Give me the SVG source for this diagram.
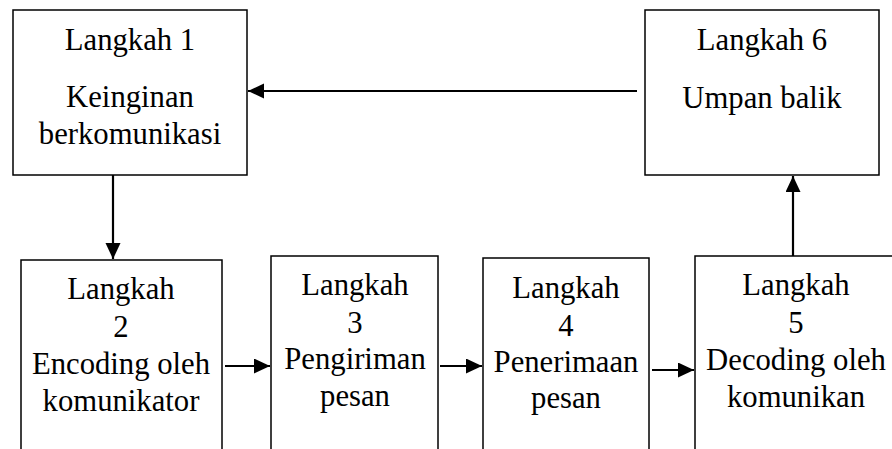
<svg xmlns="http://www.w3.org/2000/svg" width="892" height="449" viewBox="0 0 892 449">
<defs>
<style>
.box{fill:#fff;stroke:#000;stroke-width:1.5}
.c{stroke:#000;stroke-width:2.2;fill:none;marker-end:url(#ah)}
</style>
<marker id="ah" markerUnits="userSpaceOnUse" markerWidth="18" markerHeight="16" refX="16" refY="7.5" orient="auto">
<path d="M0,0 L16,7.5 L0,15 Z" fill="#000"/>
</marker>
</defs>
<rect width="892" height="449" fill="#fff"/>
<g font-family="'Liberation Serif', Tinos, 'Times New Roman', 'DejaVu Serif', serif" font-size="30.7" text-anchor="middle" fill="#000">
<g id="n1">
<rect class="box" x="13" y="10" width="234" height="165"/>
<text x="130" y="50">Langkah 1</text>
<text x="130" y="107">Keinginan</text>
<text x="130" y="144">berkomunikasi</text>
</g>
<g id="n6">
<rect class="box" x="645" y="10" width="234" height="165"/>
<text x="762" y="50">Langkah 6</text>
<text x="762" y="108">Umpan balik</text>
</g>
<g id="n2">
<rect class="box" x="21" y="260" width="201" height="200"/>
<text x="121" y="299">Langkah</text>
<text x="121" y="337">2</text>
<text x="121" y="374">Encoding oleh</text>
<text x="121" y="411">komunikator</text>
</g>
<g id="n3">
<rect class="box" x="271" y="256" width="167" height="200"/>
<text x="355" y="295">Langkah</text>
<text x="355" y="333">3</text>
<text x="355" y="369">Pengiriman</text>
<text x="355" y="406">pesan</text>
</g>
<g id="n4">
<rect class="box" x="483" y="258" width="166" height="200"/>
<text x="566" y="298">Langkah</text>
<text x="566" y="336">4</text>
<text x="566" y="372">Penerimaan</text>
<text x="566" y="408">pesan</text>
</g>
<g id="n5">
<rect class="box" x="695" y="256" width="205" height="200"/>
<text x="796" y="295">Langkah</text>
<text x="796" y="333">5</text>
<text x="796" y="370">Decoding oleh</text>
<text x="796" y="407">komunikan</text>
</g>
</g>
<g id="connectors">
<line class="c" x1="637" y1="91" x2="248" y2="91"/>
<line class="c" x1="113" y1="175" x2="113" y2="259"/>
<line class="c" x1="225" y1="366" x2="270" y2="366"/>
<line class="c" x1="440" y1="366" x2="482" y2="366"/>
<line class="c" x1="652" y1="370" x2="694" y2="370"/>
<line class="c" x1="793" y1="256" x2="793" y2="176"/>
</g>
</svg>
